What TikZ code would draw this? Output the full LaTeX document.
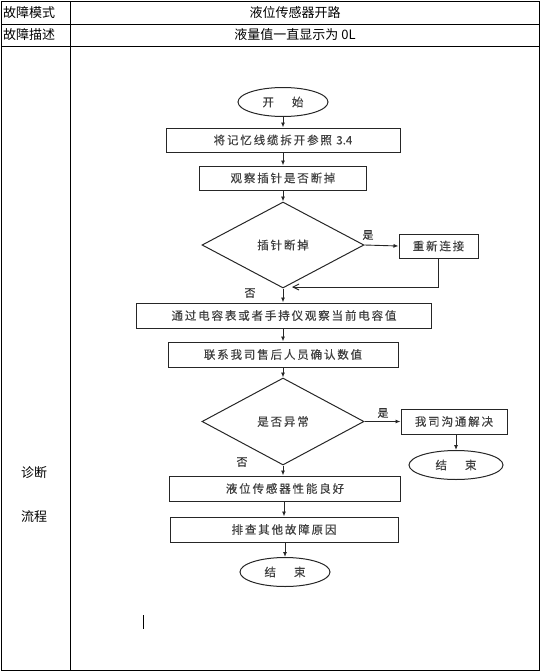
\documentclass[tikz,border=0pt]{standalone}
\usepackage{fontspec}
\setmainfont{Noto Sans CJK SC}
\newfontfamily\flowfont[LetterSpace=16, FakeBold=0.4]{Noto Sans CJK SC}
\usetikzlibrary{shapes.geometric, arrows.meta, positioning}
\tikzstyle{cell}     = [font=\fontsize{13}{15}\selectfont, inner sep=0pt]
\tikzstyle{procbox}  = [rectangle, draw=black!85, line width=1pt, minimum height=25pt,
                        text centered, inner sep=0pt, text=black!75,
                        font=\flowfont\fontsize{11.5}{13}\selectfont]
\tikzstyle{decision} = [diamond, draw=black!85, line width=1pt, minimum width=162pt,
                        minimum height=86pt, inner sep=0pt, text=black!75,
                        font=\flowfont\fontsize{11.5}{13}\selectfont]
\tikzstyle{terminal} = [ellipse, draw=black!85, line width=1pt, minimum width=90pt,
                        minimum height=29pt, inner sep=0pt, text=black!75,
                        font=\flowfont\fontsize{11.5}{13}\selectfont]
\tikzstyle{yesno}    = [inner sep=0pt, text=black!80, font=\flowfont\fontsize{11}{12}\selectfont]
\tikzstyle{arrow}    = [line width=0.9pt, draw=black!85, -{Latex[length=5pt,width=4pt]}]
\newcommand{\plainnum}[1]{{\addfontfeature{LetterSpace=0}#1}}

\begin{document}
\begin{tikzpicture}[x=1pt, y=-1pt]
  \useasboundingbox (0,0) rectangle (541,672);
  % table frame
  \draw[line width=1pt] (1,1) rectangle (539,670);
  \draw[line width=1pt] (1,24) -- (539,24);
  \draw[line width=1pt] (1,46) -- (539,46);
  \draw[line width=1pt] (70,1) -- (70,670);

  \node[cell, anchor=west] (modek) at (3,12.5) {故障模式};
  \node[cell] (modev) at (295,12.5) {液位传感器开路};
  \node[cell, anchor=west] (desck) at (3,35) {故障描述};
  \node[cell] (descv) at (295,35) {液量值一直显示为 0L};
  \node[cell] (diag) at (34,473) {诊断};
  \node[cell] (flow) at (34,517) {流程};

  % flow chart
  \node[terminal] (start) at (283,102) {开\hspace{18pt}始};
  \node[procbox, minimum width=234pt, minimum height=24pt] (unplug) at (283,140) {将记忆线缆拆开参照 \plainnum{3.4}};
  \node[procbox, minimum width=167pt, minimum height=24pt] (watch) at (283,178) {观察插针是否断掉};
  \node[decision] (broken) at (283,245) {插针断掉};
  \node[procbox, minimum width=79pt, minimum height=24pt] (reconn) at (438.5,246) {重新连接};
  \node[procbox, minimum width=295pt] (meter) at (284,315.5) {通过电容表或者手持仪观察当前电容值};
  \node[procbox, minimum width=230pt] (contact) at (283,354.5) {联系我司售后人员确认数值};
  \node[decision, minimum height=87pt] (abnormal) at (283,421.5) {是否异常};
  \node[procbox, minimum width=106pt] (solve) at (454,421.5) {我司沟通解决};
  \node[terminal, minimum width=94pt] (endb) at (456,465) {结\hspace{18pt}束};
  \node[procbox, minimum width=231pt] (good) at (285,488.5) {液位传感器性能良好};
  \node[procbox, minimum width=228pt] (other) at (284,529.5) {排查其他故障原因};
  \node[terminal] (enda) at (285,572) {结\hspace{18pt}束};

  \node[yesno] (yes1) at (368,235) {是};
  \node[yesno] (no1) at (250,293) {否};
  \node[yesno] (yes2) at (383,413) {是};
  \node[yesno] (no2) at (242,462) {否};
  \coordinate (back) at (292,287);

  \draw[arrow] (start) -- (unplug);
  \draw[arrow] (unplug) -- (watch);
  \draw[arrow] (watch) -- (broken);
  \draw[arrow] (broken.east) -- (reconn.west);
  \draw[line width=0.9pt, draw=black!85, -{Straight Barb[length=6pt,width=6pt]}]
    (reconn.south) |- (back);
  \draw[arrow] (broken.south) -- (broken.south |- meter.north);
  \draw[arrow] (meter.south -| contact) -- (contact.north);
  \draw[arrow] (contact) -- (abnormal);
  \draw[arrow] (abnormal.east) -- (solve.west);
  \draw[arrow] (solve.south -| endb) -- (endb.north);
  \draw[arrow] (abnormal.south) -- (abnormal.south |- good.north);
  \draw[arrow] (good.south -| other) -- (other.north);
  \draw[arrow] (other.south -| enda) -- (enda.north);

  \draw[line width=1.6pt] (143.5,615) -- (143.5,629);
\end{tikzpicture}
\end{document}
